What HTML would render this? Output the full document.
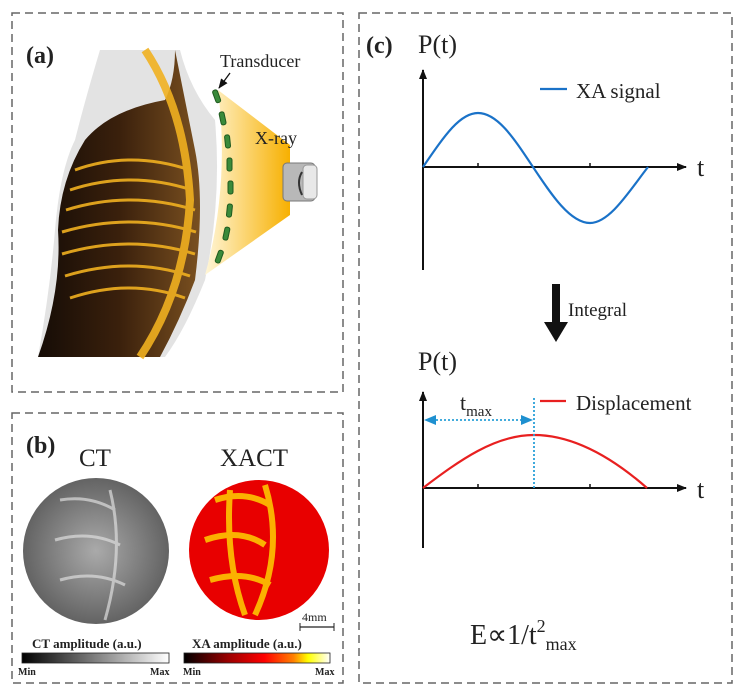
<!DOCTYPE html>
<html><head><meta charset="utf-8"><style>
html,body{margin:0;padding:0;background:#fff;}
svg{display:block;}
text{font-family:"Liberation Serif",serif;fill:#222;}
</style></head><body>
<svg width="741" height="692" viewBox="0 0 741 692" xmlns="http://www.w3.org/2000/svg">
<defs>
<linearGradient id="xr" x1="0" x2="1" y1="0" y2="0"><stop offset="0" stop-color="#fff6d8"/><stop offset="1" stop-color="#f7b000"/></linearGradient>
<linearGradient id="ctbar" x1="0" x2="1"><stop offset="0" stop-color="#000"/><stop offset="1" stop-color="#fff"/></linearGradient>
<linearGradient id="xabar" x1="0" x2="1"><stop offset="0" stop-color="#000"/><stop offset="0.3" stop-color="#900"/><stop offset="0.55" stop-color="#f00"/><stop offset="0.75" stop-color="#ff8000"/><stop offset="0.85" stop-color="#ff0"/><stop offset="1" stop-color="#fff"/></linearGradient>
<radialGradient id="ctg" cx="0.5" cy="0.5" r="0.6"><stop offset="0" stop-color="#aaa"/><stop offset="1" stop-color="#555"/></radialGradient>
<linearGradient id="body" x1="0" x2="1"><stop offset="0" stop-color="#150c06"/><stop offset="0.5" stop-color="#3a200c"/><stop offset="1" stop-color="#7a5020"/></linearGradient>
<marker id="ah" markerWidth="10" markerHeight="10" refX="9" refY="5" orient="auto" markerUnits="userSpaceOnUse"><path d="M0,1 L10,5 L0,9 z" fill="#111"/></marker>
</defs>
<g fill="none" stroke="#666" stroke-width="1.5" stroke-dasharray="8,5">
<rect x="12" y="13" width="331" height="379"/>
<rect x="12" y="413" width="331" height="270"/>
<rect x="359" y="13" width="373" height="670"/>
</g>
<!-- (a) -->
<text x="26" y="63" font-size="24" font-weight="bold">(a)</text>
<path d="M100,50 L180,50 Q190,90 215,120 Q222,200 205,280 Q185,330 165,357 L38,357 Q50,290 55,230 Q60,170 75,140 Q85,100 100,50 z" fill="#e0e0e0" opacity="0.9"/>
<path d="M98,50 L175,50 Q175,80 165,100 Q110,110 85,140 Q60,180 58,230 Q62,290 38,357 L160,357 Q180,320 195,280 Q205,200 195,150 Q185,100 175,50 z" fill="url(#body)"/>
<g stroke="#f0b020" stroke-width="3" fill="none" opacity="0.9">
<path d="M75,170 Q130,150 190,170"/><path d="M70,190 Q130,170 192,190"/><path d="M66,210 Q130,190 195,210"/><path d="M62,232 Q130,212 196,232"/><path d="M62,254 Q130,234 195,254"/><path d="M65,276 Q130,256 190,276"/><path d="M70,298 Q130,278 185,298"/>
<path d="M145,50 Q185,110 190,200 Q185,290 140,357" stroke-width="8"/>
</g>
<path d="M218,90 L290,145 L290,215 L205,275 Q230,185 218,90 z" fill="url(#xr)"/>
<g fill="#3a8a3a" stroke="#1f5a1f" stroke-width="1">
<rect x="214" y="90" width="5" height="13" rx="2" transform="rotate(-20 216 96)"/>
<rect x="220" y="112" width="5" height="13" rx="2" transform="rotate(-12 222 118)"/>
<rect x="225" y="135" width="5" height="13" rx="2" transform="rotate(-6 227 141)"/>
<rect x="227" y="158" width="5" height="13" rx="2"/>
<rect x="228" y="181" width="5" height="13" rx="2"/>
<rect x="227" y="204" width="5" height="13" rx="2" transform="rotate(6 229 210)"/>
<rect x="224" y="227" width="5" height="13" rx="2" transform="rotate(12 226 233)"/>
<rect x="217" y="250" width="5" height="13" rx="2" transform="rotate(20 219 256)"/>
</g>
<rect x="283" y="163" width="32" height="38" rx="4" fill="#b8b8b8" stroke="#777"/>
<rect x="303" y="165" width="14" height="34" rx="4" fill="#e8e8e8" stroke="#999"/>
<path d="M302,172 Q296,182 302,195" stroke="#333" stroke-width="2" fill="none"/>
<text x="220" y="67" font-size="18">Transducer</text>
<line x1="230" y1="73" x2="219" y2="88" stroke="#111" stroke-width="1.3" marker-end="url(#ah)"/>
<text x="255" y="144" font-size="18">X-ray</text>
<!-- (b) -->
<text x="26" y="453" font-size="24" font-weight="bold">(b)</text>
<text x="79" y="466" font-size="25">CT</text>
<text x="220" y="466" font-size="25">XACT</text>
<circle cx="96" cy="551" r="73" fill="url(#ctg)"/>
<g stroke="#ddd" stroke-width="3" fill="none" opacity="0.7">
<path d="M60,500 Q90,495 115,510"/><path d="M55,540 Q90,530 120,545"/><path d="M60,580 Q95,570 125,585"/><path d="M110,490 Q125,550 105,620"/>
</g>
<circle cx="259" cy="550" r="70" fill="#e80000"/>
<g stroke="#ffd000" stroke-width="6" fill="none" opacity="0.85">
<path d="M215,500 Q245,490 270,505"/><path d="M205,540 Q240,528 265,545"/><path d="M210,580 Q245,570 270,585"/><path d="M265,485 Q285,550 255,615"/><path d="M230,490 Q225,560 245,615"/>
</g>
<text x="302" y="621" font-size="12">4mm</text>
<line x1="300" y1="627" x2="334" y2="627" stroke="#222" stroke-width="1.3"/>
<line x1="300" y1="623" x2="300" y2="631" stroke="#222"/><line x1="334" y1="623" x2="334" y2="631" stroke="#222"/>
<text x="32" y="648" font-size="13" font-weight="bold">CT  amplitude  (a.u.)</text>
<text x="192" y="648" font-size="13" font-weight="bold">XA amplitude  (a.u.)</text>
<rect x="22" y="653" width="147" height="10" fill="url(#ctbar)" stroke="#222" stroke-width="0.8"/>
<rect x="184" y="653" width="146" height="10" fill="url(#xabar)" stroke="#222" stroke-width="0.8"/>
<text x="18" y="675" font-size="10" font-weight="bold">Min</text><text x="150" y="675" font-size="10" font-weight="bold">Max</text>
<text x="183" y="675" font-size="10" font-weight="bold">Min</text><text x="315" y="675" font-size="10" font-weight="bold">Max</text>
<!-- (c) -->
<text x="366" y="53" font-size="24" font-weight="bold">(c)</text>
<text x="418" y="53" font-size="26">P(t)</text>
<line x1="423" y1="270" x2="423" y2="70" stroke="#111" stroke-width="2" marker-end="url(#ah)"/>
<line x1="423" y1="167" x2="686" y2="167" stroke="#111" stroke-width="2" marker-end="url(#ah)"/>
<g stroke="#111" stroke-width="1.5"><line x1="478" y1="163" x2="478" y2="167"/><line x1="590" y1="163" x2="590" y2="167"/></g>
<path d="M423,167 C445,135 460,113 478,113 C498,113 515,140 533,167 C551,194 570,223 590,223 C610,223 630,190 648,167" fill="none" stroke="#1a72c8" stroke-width="2.2"/>
<line x1="540" y1="89" x2="567" y2="89" stroke="#1a72c8" stroke-width="2.2"/>
<text x="576" y="98" font-size="21">XA signal</text>
<text x="697" y="176" font-size="26">t</text>
<rect x="552" y="284" width="8" height="40" fill="#111"/>
<path d="M544,322 L568,322 L556,342 z" fill="#111"/>
<text x="568" y="316" font-size="19">Integral</text>
<text x="418" y="370" font-size="26">P(t)</text>
<line x1="423" y1="548" x2="423" y2="392" stroke="#111" stroke-width="2" marker-end="url(#ah)"/>
<line x1="423" y1="488" x2="686" y2="488" stroke="#111" stroke-width="2" marker-end="url(#ah)"/>
<g stroke="#111" stroke-width="1.5"><line x1="478" y1="484" x2="478" y2="488"/><line x1="590" y1="484" x2="590" y2="488"/></g>
<path d="M423,488 C460,460 495,435 534,435 C575,435 615,460 647,488" fill="none" stroke="#e82020" stroke-width="2.2"/>
<line x1="534" y1="398" x2="534" y2="488" stroke="#2aa0d8" stroke-width="1.8" stroke-dasharray="2,2"/>
<line x1="436" y1="420" x2="522" y2="420" stroke="#2aa0d8" stroke-width="1.8" stroke-dasharray="2,2"/>
<path d="M424,420 L436,415 L436,425 z" fill="#1e90d0"/><path d="M533,420 L521,415 L521,425 z" fill="#1e90d0"/>
<text x="460" y="410" font-size="22">t<tspan font-size="15" dy="6">max</tspan></text>
<line x1="540" y1="401" x2="566" y2="401" stroke="#e82020" stroke-width="2.2"/>
<text x="576" y="410" font-size="21">Displacement</text>
<text x="697" y="498" font-size="26">t</text>
<text x="470" y="644" font-size="28">E∝1/t<tspan font-size="18" dy="-12">2</tspan><tspan font-size="18" dy="18">max</tspan></text>
</svg>
</body></html>
